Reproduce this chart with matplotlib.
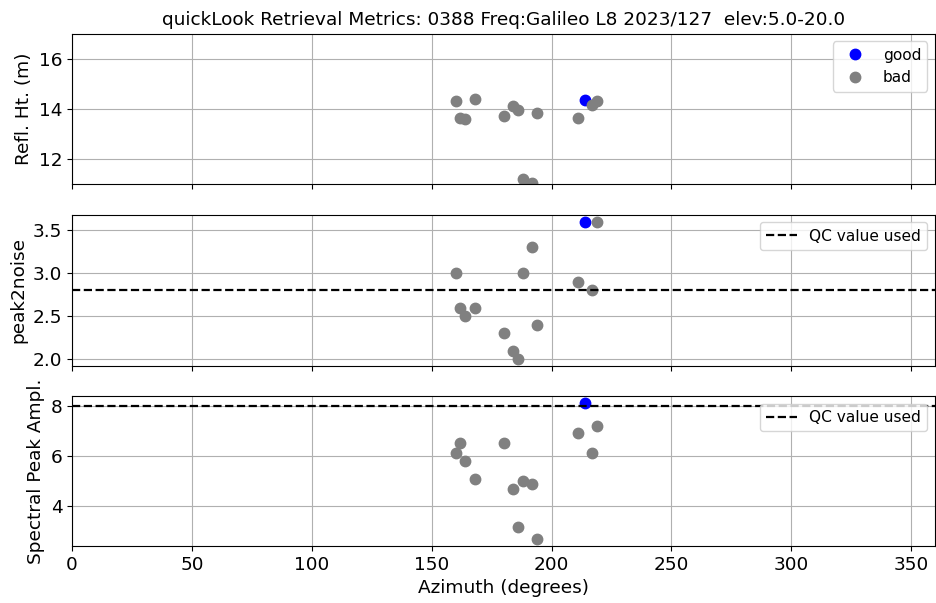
import numpy as np
import matplotlib
matplotlib.use("Agg")
import matplotlib.pyplot as plt

# azimuths of the retrievals (degrees)
azim = np.array([160, 162, 164, 168, 180, 184, 186, 188, 192, 194, 211, 214, 217, 219])
# reflector height (m)
rh = np.array([14.32, 13.62, 13.58, 14.38, 13.72, 14.10, 13.94, 11.18, 11.05,
               13.84, 13.63, 14.36, 14.14, 14.32])
# peak to noise ratio
pk2noise = np.array([3.0, 2.6, 2.5, 2.6, 2.3, 2.1, 2.0, 3.0, 3.3, 2.4, 2.9, 3.6, 2.8, 3.6])
# spectral peak amplitude
amp = np.array([6.12, 6.5, 5.8, 5.1, 6.5, 4.7, 3.2, 5.0, 4.9, 2.7, 6.9, 8.1, 6.1, 7.2])
# quality flag
good = np.array([False] * 11 + [True] + [False] * 2)

pk2noise_qc = 2.8
amp_qc = 8.0

title = "quickLook Retrieval Metrics: 0388 Freq:Galileo L8 2023/127  elev:5.0-20.0"

fs = 13.3    # labels, ticks, title
lfs = 11.1   # legends
ms = 7.5

fig = plt.figure(figsize=(9.36, 6.03), dpi=100)
ax1 = fig.add_axes([0.077, 0.695, 0.922, 0.249])
ax2 = fig.add_axes([0.077, 0.393, 0.922, 0.251], sharex=ax1)
ax3 = fig.add_axes([0.077, 0.0945, 0.922, 0.2485], sharex=ax1)

bad = ~good

# panel 1: reflector height
ax1.plot(azim[good], rh[good], 'o', color='blue', ms=ms, label='good')
ax1.plot(azim[bad], rh[bad], 'o', color='gray', ms=ms, label='bad')
ax1.set_ylim(11, 17)
ax1.set_ylabel('Refl. Ht. (m)', fontsize=fs)
ax1.set_title(title, fontsize=fs)
ax1.legend(loc='upper right', fontsize=lfs)

# panel 2: peak2noise
ax2.plot(azim[good], pk2noise[good], 'o', color='blue', ms=ms)
ax2.plot(azim[bad], pk2noise[bad], 'o', color='gray', ms=ms)
ax2.axhline(pk2noise_qc, color='k', ls='--', lw=1.6, label='QC value used')
ax2.set_ylabel('peak2noise', fontsize=fs)
ax2.legend(loc='upper right', fontsize=lfs)

# panel 3: amplitude
ax3.plot(azim[good], amp[good], 'o', color='blue', ms=ms)
ax3.plot(azim[bad], amp[bad], 'o', color='gray', ms=ms)
ax3.axhline(amp_qc, color='k', ls='--', lw=1.6, label='QC value used')
ax3.set_ylabel('Spectral Peak Ampl.', fontsize=fs)
ax3.set_xlabel('Azimuth (degrees)', fontsize=fs)
ax3.legend(loc='upper right', fontsize=lfs)

for ax in (ax1, ax2, ax3):
    ax.grid(True)
    ax.tick_params(labelsize=fs)
ax1.set_xlim(0, 360)
plt.setp(ax1.get_xticklabels(), visible=False)
plt.setp(ax2.get_xticklabels(), visible=False)

fig.savefig('out.png', dpi=100)
